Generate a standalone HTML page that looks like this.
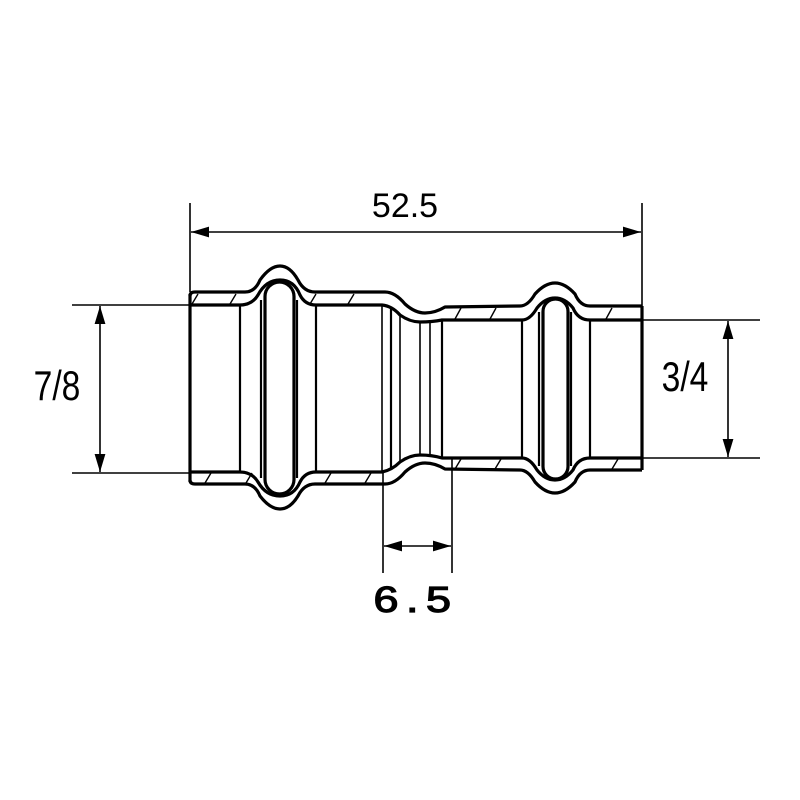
<!DOCTYPE html>
<html><head><meta charset="utf-8"><style>body{margin:0;background:#fff}svg{display:block}</style></head>
<body>
<svg width="800" height="800" viewBox="0 0 800 800" xmlns="http://www.w3.org/2000/svg">
<defs>
<marker id="a" viewBox="0 0 10 10" refX="10" refY="5" markerWidth="18" markerHeight="18" markerUnits="userSpaceOnUse" orient="auto-start-reverse"><path d="M0,2 L10,5 L0,8Z" fill="#000"/></marker>
</defs>
<g stroke="#000" fill="none" stroke-width="1.6">
<line x1="190" y1="203" x2="190" y2="292"/>
<line x1="642" y1="203" x2="642" y2="306"/>
<line x1="191" y1="232" x2="641" y2="232" marker-start="url(#a)" marker-end="url(#a)"/>
<line x1="72" y1="305" x2="190" y2="305"/>
<line x1="72" y1="473" x2="190" y2="473"/>
<line x1="100" y1="306" x2="100" y2="472" marker-start="url(#a)" marker-end="url(#a)"/>
<line x1="642" y1="320" x2="760" y2="320"/>
<line x1="642" y1="458" x2="760" y2="458"/>
<line x1="728" y1="321" x2="728" y2="457" marker-start="url(#a)" marker-end="url(#a)"/>
<line x1="383" y1="470" x2="383" y2="573"/>
<line x1="452" y1="458" x2="452" y2="573"/>
<line x1="384" y1="546" x2="451" y2="546" marker-start="url(#a)" marker-end="url(#a)"/>
</g>
<g stroke="#000" fill="none" stroke-width="3.2" stroke-linejoin="round">
<path d="M190,296 Q190,292 195,292 L245,292 Q255,292 260,280 Q270,266 280,266 Q290,266 298,280 Q304,292 315,292 L385,292 Q395,292 405,304 Q415,313 425,313 Q435,313 445,307 L520,306 Q528,306 535,294 Q545,283 555,283 Q565,283 575,294 Q580,306 590,306 L642,306"/>
<path d="M190,480 Q190,484 195,484 L245,484 Q255,484 260,496 Q270,509 280,509 Q290,509 298,496 Q304,484 315,484 L385,484 Q395,484 405,472 Q415,463 425,463 Q435,463 445,469 L520,470 Q528,470 535,482 Q545,493 555,493 Q565,493 575,482 Q580,470 590,470 L642,470"/>
<path d="M190,305 L240,305 Q252,305 258,295 Q266,280 280,280 Q294,280 300,295 Q305,305 316,305 L382,305 Q392,306 400,315 Q410,322 420,322 Q432,322 442,320 L522,320 Q530,320 537,308 Q545,298 555,298 Q565,298 573,308 Q578,320 590,320 L642,320"/>
<path d="M190,472 L240,472 Q252,472 258,482 Q266,496 280,496 Q294,496 300,482 Q305,472 316,472 L382,472 Q392,470 400,462 Q410,455 420,455 Q432,455 442,458 L522,458 Q530,458 537,470 Q545,480 555,480 Q565,480 573,470 Q578,458 590,458 L642,458"/>
<line x1="190" y1="294" x2="190" y2="482"/>
<line x1="642" y1="306" x2="642" y2="470"/>
<rect x="265" y="282" width="29" height="212" rx="14.5"/>
<rect x="543" y="299" width="25" height="180" rx="12.5"/>
</g>
<g stroke="#000" stroke-width="2.2">
<line x1="240" y1="305" x2="240" y2="472"/>
<line x1="261" y1="300" x2="261" y2="478"/>
<line x1="297" y1="300" x2="297" y2="478"/>
<line x1="316" y1="305" x2="316" y2="472"/>
<line x1="382" y1="305" x2="382" y2="472" stroke-width="1.6"/>
<line x1="391" y1="309" x2="391" y2="468"/>
<line x1="400" y1="315" x2="400" y2="462" stroke-width="1.6"/>
<line x1="420" y1="322" x2="420" y2="455" stroke-width="1.6"/>
<line x1="430" y1="322" x2="430" y2="455" stroke-width="1.6"/>
<line x1="442" y1="320" x2="442" y2="458"/>
<line x1="522" y1="320" x2="522" y2="458"/>
<line x1="539" y1="312" x2="539" y2="466"/>
<line x1="571" y1="312" x2="571" y2="466"/>
<line x1="590" y1="320" x2="590" y2="458"/>
</g>
<g stroke="#000" stroke-width="1.4">
<line x1="192" y1="304" x2="198" y2="294"/><line x1="230" y1="304" x2="236" y2="294"/>
<line x1="310" y1="304" x2="316" y2="294"/><line x1="348" y1="304" x2="354" y2="294"/>
<line x1="455" y1="319" x2="461" y2="308"/><line x1="490" y1="319" x2="496" y2="308"/><line x1="606" y1="319" x2="612" y2="308"/>
<line x1="205" y1="483" x2="211" y2="473"/><line x1="246" y1="483" x2="252" y2="473"/>
<line x1="325" y1="483" x2="331" y2="473"/><line x1="365" y1="483" x2="371" y2="473"/>
<line x1="455" y1="469" x2="461" y2="459"/><line x1="495" y1="469" x2="501" y2="459"/><line x1="612" y1="469" x2="618" y2="459"/>
</g>
<g font-family="Liberation Sans, DejaVu Sans, sans-serif" fill="#000">
<text x="405" y="217" font-size="34" text-anchor="middle">52.5</text>
<text x="57" y="400" font-size="42" text-anchor="middle" transform="translate(57 0) scale(0.8 1) translate(-57 0)">7/8</text>
<text x="685" y="391" font-size="42" text-anchor="middle" transform="translate(685 0) scale(0.8 1) translate(-685 0)">3/4</text>
<text x="416" y="612" font-size="36" text-anchor="middle" letter-spacing="6" stroke="#000" stroke-width="1.2" transform="translate(416 0) scale(1.25 1) translate(-416 0)">6.5</text>
</g>
</svg>
</body></html>
